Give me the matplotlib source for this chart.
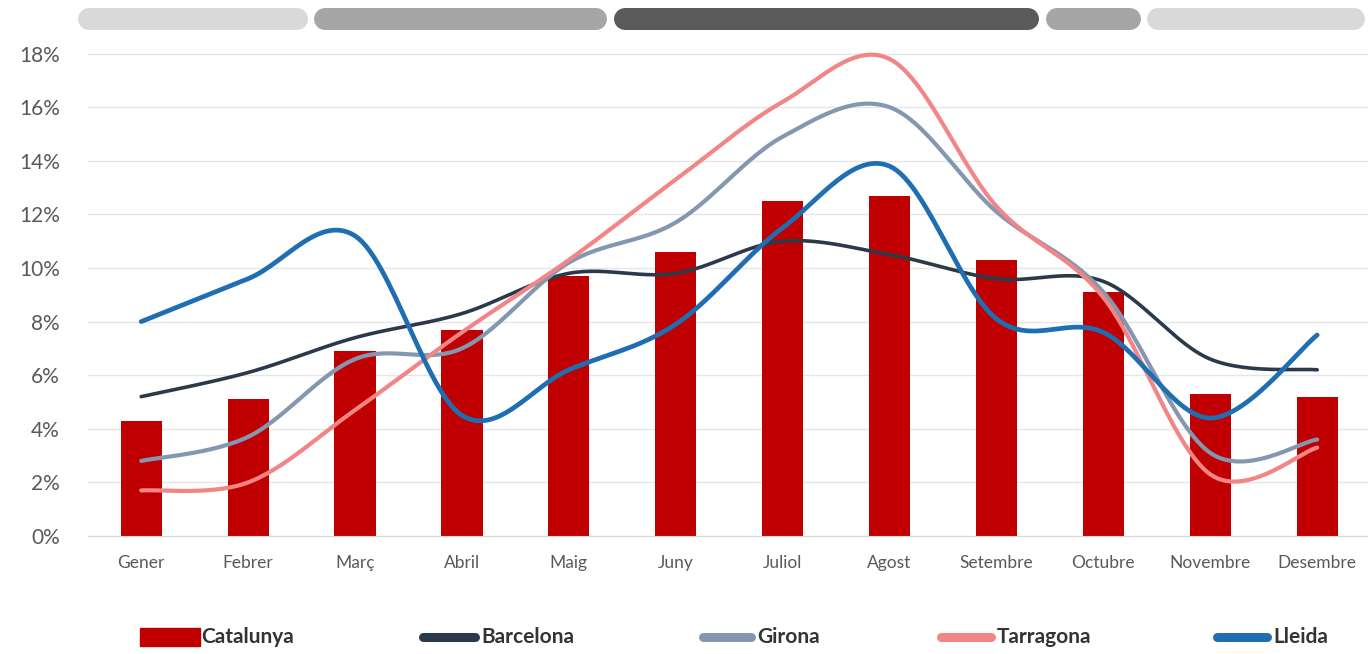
import numpy as np
import matplotlib.pyplot as plt
from matplotlib.lines import Line2D
from matplotlib.patches import Rectangle

# monthly share of overnight stays (%)
mesos = ["Gener", "Febrer", "Març", "Abril", "Maig", "Juny", "Juliol",
         "Agost", "Setembre", "Octubre", "Novembre", "Desembre"]
catalunya = [4.3, 5.1, 6.9, 7.7, 9.7, 10.6, 12.5, 12.7, 10.3, 9.1, 5.3, 5.2]
barcelona = [5.2, 6.1, 7.4, 8.3, 9.8, 9.8, 11.0, 10.5, 9.6, 9.5, 6.6, 6.2]
girona = [2.8, 3.7, 6.6, 7.0, 10.2, 11.7, 14.9, 16.0, 12.1, 9.1, 3.1, 3.6]
tarragona = [1.7, 2.0, 4.7, 7.6, 10.3, 13.3, 16.2, 17.8, 12.3, 8.9, 2.3, 3.3]
lleida = [8.0, 9.6, 11.2, 4.5, 6.2, 7.9, 11.5, 13.8, 8.1, 7.6, 4.4, 7.5]

# season bands drawn above the plot (start, end in month units, colour)
temporades = [(-0.59, 1.56, "#D9D9D9"), (1.62, 4.36, "#A6A6A6"),
              (4.42, 8.40, "#5A5A5A"), (8.46, 9.35, "#A6A6A6"),
              (9.41, 11.45, "#D9D9D9")]


def smooth_curve(y, steps=30):
    """Excel-like smoothed line (Catmull-Rom as cubic Bezier)."""
    p = np.column_stack([np.arange(len(y)), np.asarray(y, float)])
    p = np.vstack([p[0], p, p[-1]])
    out = []
    t = np.linspace(0, 1, steps)[:, None]
    for i in range(1, len(p) - 2):
        p0, p1, p2, p3 = p[i - 1], p[i], p[i + 1], p[i + 2]
        c1 = p1 + (p2 - p0) / 6
        c2 = p2 - (p3 - p1) / 6
        seg = ((1 - t) ** 3) * p1 + 3 * ((1 - t) ** 2) * t * c1 \
            + 3 * (1 - t) * t ** 2 * c2 + t ** 3 * p2
        out.append(seg if i == 1 else seg[1:])
    out = np.vstack(out)
    return out[:, 0], out[:, 1]


W, H = 1368, 654
fig = plt.figure(figsize=(W / 100, H / 100), dpi=100)
plt.rcParams['font.family'] = ['Lato', 'DejaVu Sans']

unit = 26.8  # pixels per percentage point
ax = fig.add_axes([87.75 / W, (H - 536) / H, 1282.9 / W, 18.5 * unit / H])
x = np.arange(len(mesos))

ax.bar(x, catalunya, width=0.385, color="#C00000", zorder=2)

series = [
    (barcelona, "#2B3A4A", 2.6),
    (girona, "#8497B0", 3.0),
    (tarragona, "#F28585", 3.0),
    (lleida, "#1F6EB2", 3.4),
]
for vals, col, lw in series:
    sx, sy = smooth_curve(vals)
    ax.plot(sx, sy, color=col, lw=lw, solid_capstyle="round", zorder=3)

ax.set_xlim(-0.5, 11.5)
ax.set_ylim(0, 18.5)
ax.set_yticks(range(0, 19, 2))
ax.set_yticklabels([f"{v}%" for v in range(0, 19, 2)], fontsize=15,
                   color="#595959")
ax.set_xticks(x)
ax.set_xticklabels(mesos, fontsize=12.5, color="#595959")
ax.tick_params(axis="y", length=0, pad=20)
ax.tick_params(axis="x", length=0, pad=14)
ax.grid(axis="y", color="#E6E6E6", lw=1, zorder=0)
for s in ["top", "right", "left"]:
    ax.spines[s].set_visible(False)
ax.spines["bottom"].set_color("#D9D9D9")

# season strip
top = fig.add_axes([87.75 / W, (H - 30) / H, 1282.9 / W, 22 / H])
top.set_xlim(-0.5, 11.5)
top.set_ylim(0, 1)
top.axis("off")
cap = 11 / 106.9
for a, b, col in temporades:
    top.plot([a + cap, b - cap], [0.5, 0.5], color=col, lw=22 * 0.72,
             solid_capstyle="round", clip_on=False)

# legend
ly = (H - 637) / H
legend_items = [("Catalunya", "#C00000", 140, 200, "bar"),
                ("Barcelona", "#2B3A4A", 418, 480, "line"),
                ("Girona", "#8497B0", 698, 756, "line"),
                ("Tarragona", "#F28585", 936, 996, "line"),
                ("Lleida", "#1F6EB2", 1212, 1272, "line")]
for label, col, x0, x1, kind in legend_items:
    if kind == "bar":
        fig.add_artist(Rectangle((x0 / W, (H - 646) / H), (x1 - x0) / W,
                                 18 / H, color=col,
                                 transform=fig.transFigure))
    else:
        fig.add_artist(Line2D([(x0 + 5) / W, (x1 - 5) / W], [ly, ly],
                              color=col, lw=6.5, solid_capstyle="round",
                              transform=fig.transFigure))
    fig.text((x1 + 1) / W, ly, label, fontsize=15, fontweight="bold",
             color="#333333", ha="left", va="center")

fig.savefig("out.png", dpi=100)
